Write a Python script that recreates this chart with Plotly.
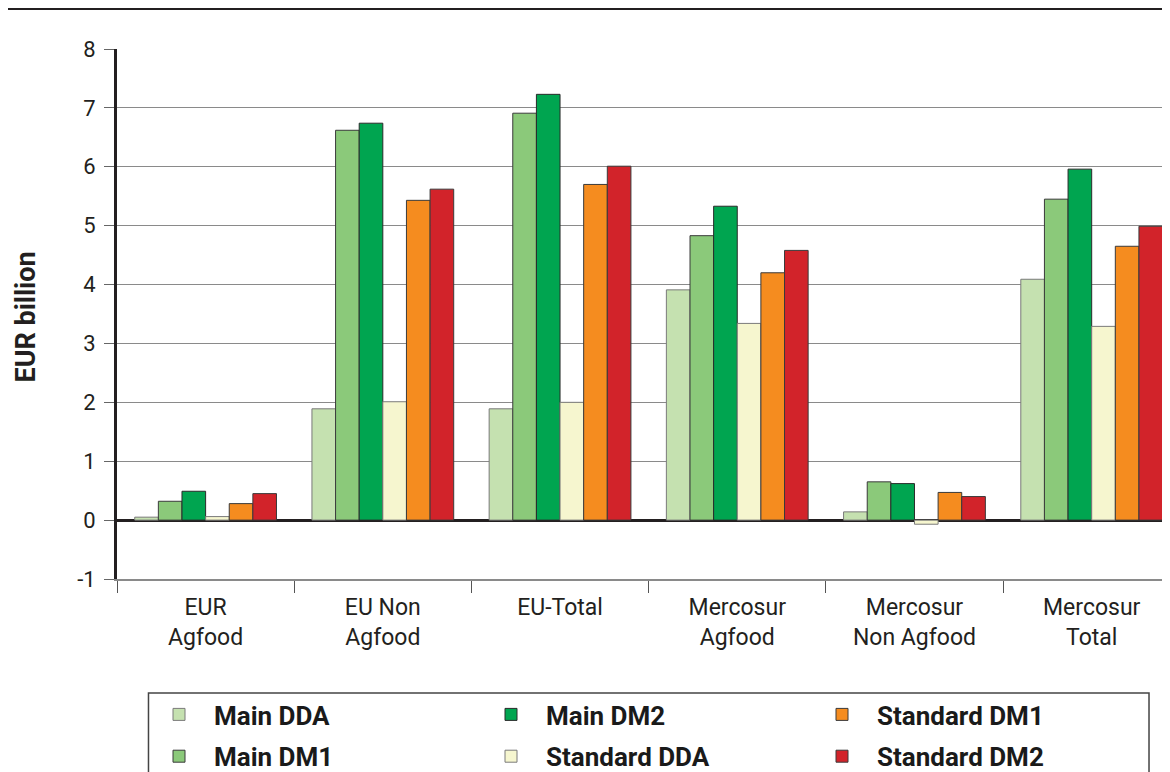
import plotly.graph_objects as go

categories = ["EUR<br>Agfood", "EU Non<br>Agfood", "EU-Total", "Mercosur<br>Agfood",
              "Mercosur<br>Non Agfood", "Mercosur<br>Total"]

main_dda = [0.05, 1.89, 1.89, 3.91, 0.14, 4.09]
main_dm1 = [0.32, 6.62, 6.91, 4.83, 0.65, 5.45]
main_dm2 = [0.49, 6.74, 7.23, 5.33, 0.62, 5.96]
std_dda = [0.06, 2.01, 2.00, 3.34, -0.07, 3.29]
std_dm1 = [0.28, 5.43, 5.70, 4.20, 0.47, 4.65]
std_dm2 = [0.45, 5.62, 6.01, 4.58, 0.40, 4.99]

y_tickvals = [-1, 0, 1, 2, 3, 4, 5, 6, 7, 8]
y_ticktext = ["-1", "0", "1", "2", "3", "4", "5", "6", "7", "8"]

series = [
    ("Main DDA", main_dda, "#c5e1b0", "#7a7a7a", "legend", 1),
    ("Main DM1", main_dm1, "#8bc97a", "#3a3a3a", "legend", 2),
    ("Main DM2", main_dm2, "#00a550", "#2a2a2a", "legend2", 1),
    ("Standard DDA", std_dda, "#f6f6cf", "#7a7a7a", "legend2", 2),
    ("Standard DM1", std_dm1, "#f58c1f", "#3a3a3a", "legend3", 1),
    ("Standard DM2", std_dm2, "#d2232a", "#3a3a3a", "legend3", 2),
]

# page body has an 8px margin, so layout pixel = reference pixel - 8
W, H = 1170, 772
L, T = 108.5, 41
PB = 571
CAT_W = 177.3
plot_w = W - L
plot_h = PB - T

fig = go.Figure()
for name, vals, col, lcol, leg, rank in series:
    fig.add_trace(go.Bar(
        x=categories, y=vals, name=name,
        marker=dict(color=col, line=dict(color=lcol, width=1)),
        legend=leg, legendrank=rank, legendgroup=name,
    ))

font_fam = "Roboto, Liberation Sans, sans-serif"
leg_font = dict(family=font_fam, size=26, color="#1a1a1a", weight="bold")

def legend_cfg(px):
    return dict(x=px / W, y=1 - 683 / H, xref="container", yref="container",
                xanchor="left", yanchor="top", orientation="v",
                font=leg_font, bgcolor="rgba(0,0,0,0)", borderwidth=0,
                itemwidth=60, tracegroupgap=5)

x_max = -0.5 + plot_w / CAT_W

def px_x(p):
    return (p - L) / plot_w

def px_y(p):
    return (PB - p) / plot_h

fig.update_layout(
    width=W, height=H,
    margin=dict(l=L, r=0, t=T, b=H - PB, pad=0, autoexpand=False),
    paper_bgcolor="white", plot_bgcolor="white",
    barmode="group", bargap=0.2, bargroupgap=0,
    font=dict(family=font_fam, size=22, color="#231f20"),
    showlegend=True,
    legend=legend_cfg(136),
    legend2=legend_cfg(468),
    legend3=legend_cfg(799),
    xaxis=dict(
        range=[-0.5, x_max], tickson="boundaries", ticks="outside", ticklen=12,
        tickcolor="#555", tickwidth=1, showline=True, linecolor="#8a8a8a", linewidth=1.5,
        tickfont=dict(size=23, family=font_fam, color="#231f20"), showgrid=False,
        ticklabelstandoff=7, fixedrange=True, automargin=False,
    ),
    yaxis=dict(
        range=[-1, 8], tickvals=y_tickvals, ticktext=y_ticktext,
        ticks="outside", ticklen=10, tickcolor="#666",
        showgrid=True, gridcolor="#8a8a8a", gridwidth=1,
        zeroline=True, zerolinecolor="#231f20", zerolinewidth=3,
        showline=True, linecolor="#231f20", linewidth=3,
        tickfont=dict(size=22, family=font_fam, color="#231f20"),
        ticklabelstandoff=4, automargin=False, fixedrange=True,
    ),
    annotations=[
        dict(text="EUR billion", xref="paper", yref="paper", x=px_x(17), y=px_y(309),
             textangle=-90, showarrow=False, xanchor="center", yanchor="middle",
             font=dict(size=27, family=font_fam, weight="bold", color="#231f20")),
    ],
    shapes=[
        dict(type="line", xref="paper", yref="paper", x0=-1, x1=1.1,
             y0=px_y(0.5), y1=px_y(0.5),
             line=dict(color="#231f20", width=3)),
        dict(type="rect", xref="paper", yref="paper",
             x0=px_x(140), x1=px_x(1141),
             y0=px_y(790), y1=px_y(685),
             line=dict(color="#444", width=1.5)),
    ],
)

fig.write_html("out.html")
